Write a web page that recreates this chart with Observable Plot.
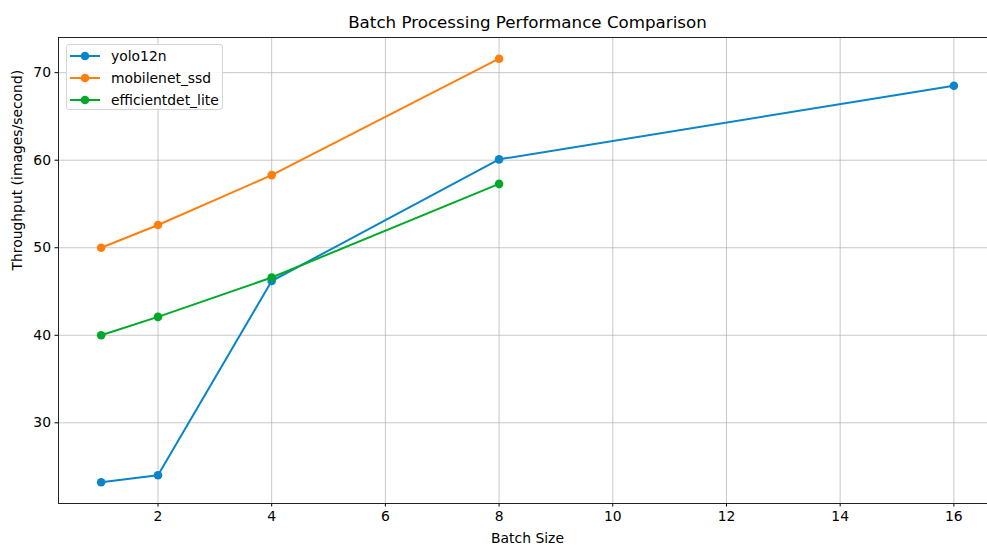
<!DOCTYPE html>
<html>
<head>
<meta charset="utf-8">
<script src="https://cdn.jsdelivr.net/npm/d3@7"></script>
<script src="https://cdn.jsdelivr.net/npm/@observablehq/plot@0.6"></script>
<style>
  html, body { margin: 0; padding: 0; background: #fff; overflow: hidden; }
  #wrap { position: relative; width: 987px; height: 545px; overflow: hidden; }
  #chart svg { max-width: none !important; width: 996px !important; height: 545px !important; }
  #legend {
    position: absolute; left: 66px; top: 44px; width: 155px; height: 64px;
    border: 1px solid #d4d4d4; border-radius: 3px; background: rgba(255,255,255,0.85);
    font-family: "DejaVu Sans", sans-serif; font-size: 13.9px; color: #000;
  }
  .entry { position: absolute; left: 0; height: 20px; display: flex; align-items: center; }
  .entry svg { margin-left: 3px; margin-right: 11px; }
</style>
</head>
<body>
<div id="wrap"><div id="chart"></div><div id="legend"></div></div>
<script>
// Throughput measured at each batch size
const batchSizes = [1, 2, 4, 8, 16];
const seriesNames = ["yolo12n", "mobilenet_ssd", "efficientdet_lite"];
const yolo12n = [23.2, 24.0, 46.2, 60.1, 68.5];
const mobilenetSsd = [50.0, 52.6, 58.3, 71.6];
const efficientdetLite = [40.0, 42.1, 46.6, 57.3];
const seriesColors = ["#0b85c7", "#ff7f0e", "#00aa28"];

const xTicks = [2, 4, 6, 8, 10, 12, 14, 16];
const yTicks = [30, 40, 50, 60, 70];

const titleText = "Batch Processing Performance Comparison";
const xLabel = "Batch Size";
const yLabel = "Throughput (images/second)";

const seriesValues = [yolo12n, mobilenetSsd, efficientdetLite];
const rows = seriesValues.map((vals, i) =>
  vals.map((v, j) => ({series: seriesNames[i], batch: batchSizes[j], tput: v}))
);

const font = "DejaVu Sans, sans-serif";
const seriesMarks = rows.flatMap((data, i) => [
  Plot.line(data, {x: "batch", y: "tput", stroke: seriesColors[i], strokeWidth: 2}),
  Plot.dot(data, {x: "batch", y: "tput", fill: seriesColors[i], r: 4.3})
]);

const chart = Plot.plot({
  width: 996,
  height: 545,
  marginLeft: 58,
  marginRight: 0,
  marginTop: 37,
  marginBottom: 42,
  style: {fontFamily: font, fontSize: "13.9px", color: "#000", background: "#fff", maxWidth: "none"},
  x: {domain: [0.25, 16.75]},
  y: {domain: [20.78, 74.02]},
  marks: [
    Plot.gridX(xTicks, {stroke: "#b0b0b0", strokeOpacity: 0.7, strokeWidth: 1}),
    Plot.gridY(yTicks, {stroke: "#b0b0b0", strokeOpacity: 0.7, strokeWidth: 1}),
    Plot.axisX(xTicks, {tickSize: 3.5, tickPadding: 4, label: null, fontSize: 13.9, stroke: "#000"}),
    Plot.axisY(yTicks, {tickSize: 3.5, tickPadding: 4, label: null, fontSize: 13.9, stroke: "#000"}),
    Plot.frame({stroke: "#222", strokeWidth: 1}),
    ...seriesMarks,
    Plot.text([titleText], {frameAnchor: "top", dy: -15, fontSize: 16.7, lineAnchor: "middle", fill: "#000"}),
    Plot.text([xLabel], {frameAnchor: "bottom", dy: 35, fontSize: 13.9, lineAnchor: "middle", fill: "#000"}),
    Plot.text([yLabel], {frameAnchor: "left", dx: -41, rotate: -90, fontSize: 13.9, lineAnchor: "middle", fill: "#000"})
  ]
});
document.getElementById("chart").appendChild(chart);

// Legend: line-and-marker handle for each series
const legend = document.getElementById("legend");
seriesNames.forEach((name, i) => {
  const e = document.createElement("div");
  e.className = "entry";
  e.style.top = (1 + i * 21.8) + "px";
  e.innerHTML = `<svg width="30" height="12"><line x1="0" x2="30" y1="6" y2="6" stroke="${seriesColors[i]}" stroke-width="2"/><circle cx="15" cy="6" r="4.3" fill="${seriesColors[i]}"/></svg><span>${name}</span>`;
  legend.appendChild(e);
});
</script>
</body>
</html>
